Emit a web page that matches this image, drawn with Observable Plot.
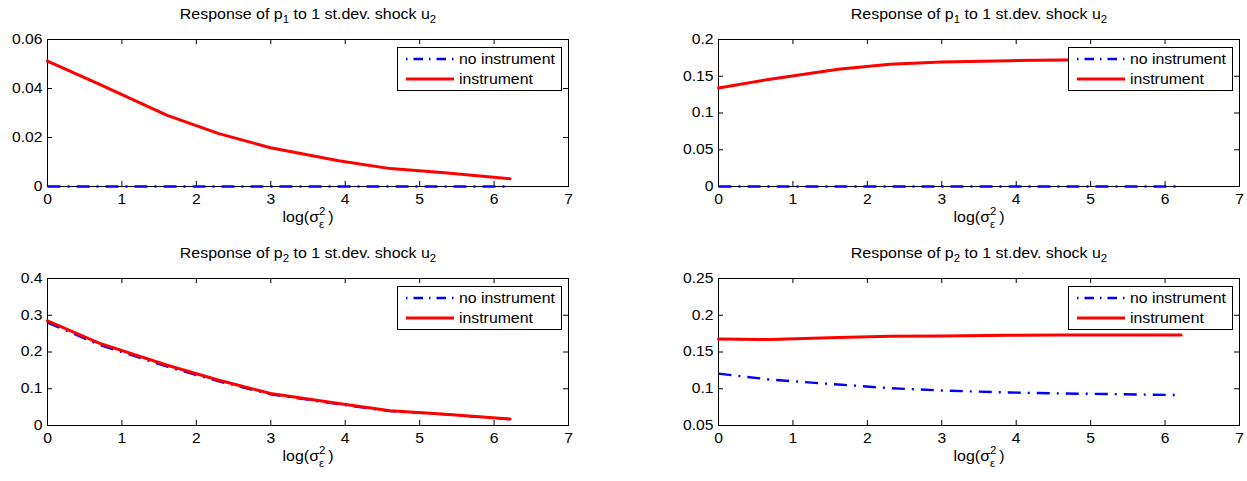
<!DOCTYPE html>
<html>
<head>
<meta charset="utf-8">
<script src="https://cdn.jsdelivr.net/npm/d3@7"></script>
<script src="https://cdn.jsdelivr.net/npm/@observablehq/plot@0.6"></script>
<style>
  html, body { margin: 0; padding: 0; background: #fff; overflow: hidden; }
  #root { position: relative; width: 1247px; height: 481px; font-family: "Liberation Sans", Arial, Helvetica, sans-serif; color: #000; }
  .panel { position: absolute; }
  .panel svg { position: absolute; left: 0; top: 0; overflow: visible; }
  .title, .xlabel { position: absolute; font-size: 14px; line-height: 16px; white-space: nowrap; transform: translateX(-50%) scaleX(1.14); }
  .title sub { font-size: 10px; vertical-align: -4px; line-height: 0; }
  .ss { display: inline-block; position: relative; width: 8px; height: 10px; }
  .ss .sup { position: absolute; left: 0; top: -8px; font-size: 10px; }
  .ss .sb { position: absolute; left: 0; top: 5px; font-size: 10px; }
  .legend { position: absolute; width: 163px; height: 42px; border: 1px solid #000; background: #fff; }
  .legend svg { position: absolute; left: 0; top: 0; }
  .legend .lbl { position: absolute; left: 61px; font-size: 14px; line-height: 16px; white-space: nowrap; transform-origin: left center; transform: scaleX(1.13); }
</style>
</head>
<body>
<div id="root"></div>
<script>
// x positions: log of the noise variance
const logSigma2 = [0, 0.693, 1.609, 2.303, 2.996, 3.912, 4.605, 5.298, 6.215];
const xTicks = [0, 1, 2, 3, 4, 5, 6, 7];
const seriesNames = ["no instrument", "instrument"];

// left column
const p1LeftNoInstrument = [0, 0, 0, 0, 0, 0, 0, 0, 0];
const p1LeftInstrument   = [0.0512, 0.0418, 0.0290, 0.0216, 0.0158, 0.0105, 0.0073, 0.0057, 0.0032];
const p2LeftNoInstrument = [0.280, 0.220, 0.160, 0.120, 0.085, 0.058, 0.039, 0.031, 0.017];
const p2LeftInstrument   = [0.285, 0.224, 0.164, 0.123, 0.087, 0.060, 0.040, 0.0315, 0.018];

// right column
const p1RightNoInstrument = [0, 0, 0, 0, 0, 0, 0, 0, 0];
const p1RightInstrument   = [0.134, 0.146, 0.1596, 0.1663, 0.1694, 0.1712, 0.1721, 0.1726, 0.1730];
const p2RightNoInstrument = [0.1206, 0.1125, 0.1057, 0.1008, 0.0976, 0.0949, 0.0936, 0.0927, 0.0913];
const p2RightInstrument   = [0.1678, 0.1669, 0.1696, 0.1713, 0.1718, 0.1727, 0.1731, 0.1731, 0.1731];

// y tick values per panel
const yTicksP1Left  = [0, 0.02, 0.04, 0.06];
const yTicksP1Right = [0, 0.05, 0.1, 0.15, 0.2];
const yTicksP2Left  = [0, 0.1, 0.2, 0.3, 0.4];
const yTicksP2Right = [0.05, 0.1, 0.15, 0.2, 0.25];

const BLUE = "#0000ff", RED = "#ff0000";
const FRAME_W = 521, FRAME_H = 147;
const M = {left: 47, right: 8, top: 39, bottom: 54};

const panels = [
  {variable: "1", col: 0, row: 0, yTicks: yTicksP1Left,  noInstr: p1LeftNoInstrument,  instr: p1LeftInstrument},
  {variable: "1", col: 1, row: 0, yTicks: yTicksP1Right, noInstr: p1RightNoInstrument, instr: p1RightInstrument},
  {variable: "2", col: 0, row: 1, yTicks: yTicksP2Left,  noInstr: p2LeftNoInstrument,  instr: p2LeftInstrument},
  {variable: "2", col: 1, row: 1, yTicks: yTicksP2Right, noInstr: p2RightNoInstrument, instr: p2RightInstrument}
];
const colLeft = [0, 671];
const rowTop = [0, 239];

const fmt = d => String(+d.toFixed(4));
const root = document.getElementById("root");

for (const p of panels) {
  const div = document.createElement("div");
  div.className = "panel";
  div.style.left = colLeft[p.col] + "px";
  div.style.top = rowTop[p.row] + "px";
  const W = M.left + FRAME_W + M.right, H = M.top + FRAME_H + M.bottom;
  div.style.width = W + "px";
  div.style.height = H + "px";

  const rowsNo = logSigma2.map((x, i) => ({x, y: p.noInstr[i]}));
  const rowsIn = logSigma2.map((x, i) => ({x, y: p.instr[i]}));
  const yDomain = [p.yTicks[0], p.yTicks[p.yTicks.length - 1]];

  const chart = Plot.plot({
    width: W, height: H,
    marginLeft: M.left, marginRight: M.right, marginTop: M.top, marginBottom: M.bottom,
    x: {domain: [0, 7]},
    y: {domain: yDomain},
    style: {fontFamily: '"Liberation Sans", Arial, Helvetica, sans-serif', fontSize: "14px", color: "#000", background: "transparent", overflow: "visible"},
    marks: [
      Plot.axisX({ticks: xTicks, tickSize: 0, tickPadding: 8, label: null, tickFormat: fmt}),
      Plot.axisY({ticks: p.yTicks, tickSize: 0, tickPadding: 5, label: null, tickFormat: fmt}),
      // inward ticks on all four sides
      Plot.tickX(xTicks, {x: d => d, insetTop: FRAME_H - 5, stroke: "#000"}),
      Plot.tickX(xTicks, {x: d => d, insetBottom: FRAME_H - 5, stroke: "#000"}),
      Plot.tickY(p.yTicks, {y: d => d, insetRight: FRAME_W - 5, stroke: "#000"}),
      Plot.tickY(p.yTicks, {y: d => d, insetLeft: FRAME_W - 5, stroke: "#000"}),
      Plot.frame({stroke: "#000", strokeWidth: 1}),
      Plot.line(rowsNo, {x: "x", y: "y", stroke: BLUE, strokeWidth: 2.4, strokeDasharray: "13,7,2,7", strokeLinecap: "butt"}),
      Plot.line(rowsIn, {x: "x", y: "y", stroke: RED, strokeWidth: 3})
    ]
  });
  // widen tick labels horizontally
  d3.select(chart).selectAll("g[aria-label$='tick label'] text").each(function() {
    const t = this.getAttribute("transform") || "";
    this.setAttribute("transform", t + " scale(1.12,1)");
  });
  div.appendChild(chart);

  const cx = M.left + FRAME_W / 2;

  const title = document.createElement("div");
  title.className = "title";
  title.style.left = cx + "px";
  title.style.top = (M.top - 33) + "px";
  title.innerHTML = `Response of p<sub>${p.variable}</sub> to 1 st.dev. shock u<sub>2</sub>`;
  div.appendChild(title);

  const xl = document.createElement("div");
  xl.className = "xlabel";
  xl.style.left = cx + "px";
  xl.style.top = (M.top + FRAME_H + 23) + "px";
  xl.innerHTML = `log(σ<span class="ss"><span class="sup">2</span><span class="sb">ε</span></span>)`;
  div.appendChild(xl);

  // legend box inside the upper right of the frame
  const lg = document.createElement("div");
  lg.className = "legend";
  lg.style.left = (M.left + FRAME_W - 6 - 165) + "px";
  lg.style.top = (M.top + 8) + "px";
  const lsvg = d3.create("svg").attr("width", 163).attr("height", 42);
  lsvg.append("line").attr("x1", 8).attr("x2", 56).attr("y1", 11).attr("y2", 11)
    .attr("stroke", BLUE).attr("stroke-width", 2.4).attr("stroke-dasharray", "1.5,6,9.5,6");
  lsvg.append("line").attr("x1", 8).attr("x2", 56).attr("y1", 31).attr("y2", 31)
    .attr("stroke", RED).attr("stroke-width", 3);
  lg.appendChild(lsvg.node());
  seriesNames.forEach((name, i) => {
    const s = document.createElement("div");
    s.className = "lbl";
    s.style.top = (3 + i * 20) + "px";
    s.textContent = name;
    lg.appendChild(s);
  });
  div.appendChild(lg);

  root.appendChild(div);
}
</script>
</body>
</html>
